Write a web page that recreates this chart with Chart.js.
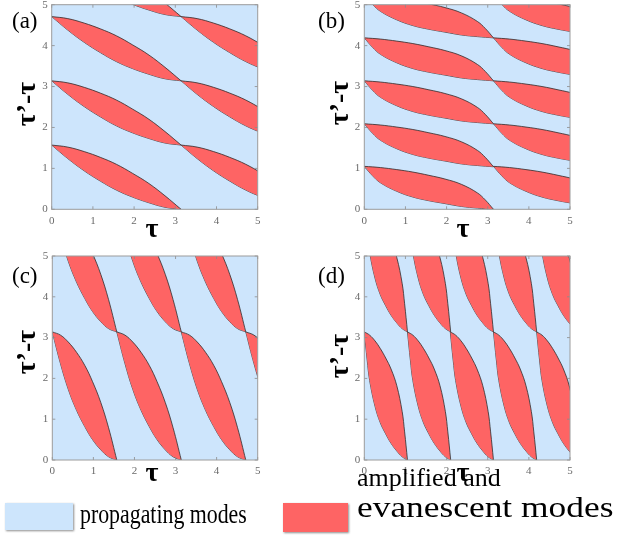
<!DOCTYPE html>
<html>
<head>
<meta charset="utf-8">
<script src="https://cdn.jsdelivr.net/npm/chart.js@4.4.0/dist/chart.umd.min.js"></script>
<style>
  body { margin: 0; width: 620px; height: 554px; background: #fff; position: relative; overflow: hidden; font-family: "Liberation Serif", serif; }
  canvas { position: absolute; left: 0; top: 0; }
  .box { position: absolute; box-shadow: 1px 1px 2px rgba(0,0,0,0.45); }
  .txt { position: absolute; line-height: 1; color: #000; white-space: nowrap; transform-origin: 0 0; }
</style>
</head>
<body>
<canvas id="pa" width="620" height="554"></canvas>
<canvas id="pb" width="620" height="554"></canvas>
<canvas id="pc" width="620" height="554"></canvas>
<canvas id="pd" width="620" height="554"></canvas>

<div class="box" style="left:5px;top:503px;width:68px;height:27px;background:#cde5fc"></div>
<div class="txt" style="left:80px;top:500px;font-size:28px;transform:scaleX(0.78)">propagating modes</div>
<div class="box" style="left:283px;top:503px;width:65px;height:29px;background:#fe6464"></div>
<div class="txt" style="left:357px;top:465px;font-size:26px">amplified and</div>
<div class="txt" style="left:357px;top:493px;font-size:29px;transform:scaleX(1.22)">evanescent modes</div>

<script>
const tickVals = [0, 1, 2, 3, 4, 5];

// (a) one red lens: upper and lower edge, tip to tip
const aUpTau  = [0, 0.39, 0.79, 1.18, 1.57, 1.96, 2.36, 2.75, 3.14];
const aUpGap  = [1.57, 1.52, 1.41, 1.27, 1.10, 0.88, 0.63, 0.33, 0];
const aLowTau = [0, 0.39, 0.79, 1.18, 1.57, 1.96, 2.36, 2.75, 3.14];
const aLowGap = [1.57, 1.24, 0.94, 0.69, 0.47, 0.30, 0.16, 0.05, 0];
// upper-left tips of the lenses in (a)
const aTipTau = [0, 0, 0, 0, 3.14, 3.14, 3.14, 3.14];
const aTipGap = [1.57, 3.14, 4.71, 6.28, 1.57, 3.14, 4.71, 6.28];

// (b)
const bUpTau  = [0, 0.39, 0.79, 1.18, 1.57, 1.96, 2.36, 2.75, 2.94, 3.14];
const bUpGap  = [1.05, 1.02, 0.97, 0.91, 0.83, 0.74, 0.61, 0.40, 0.23, 0];
const bLowTau = [0, 0.20, 0.39, 0.79, 1.18, 1.57, 1.96, 2.36, 2.75, 3.14];
const bLowGap = [1.05, 0.82, 0.65, 0.44, 0.30, 0.21, 0.14, 0.07, 0.03, 0];
const bTipTau = [0, 0, 0, 0, 0, 3.14, 3.14, 3.14, 3.14, 3.14];
const bTipGap = [1.05, 2.09, 3.14, 4.19, 5.24, 1.05, 2.09, 3.14, 4.19, 5.24];

// (c)
const cUpTau  = [0, 0.20, 0.39, 0.59, 0.79, 0.98, 1.18, 1.37, 1.57];
const cUpGap  = [3.14, 3.06, 2.89, 2.64, 2.32, 1.92, 1.41, 0.79, 0];
const cLowTau = [0, 0.20, 0.39, 0.59, 0.79, 0.98, 1.18, 1.37, 1.57];
const cLowGap = [3.14, 2.36, 1.73, 1.22, 0.82, 0.50, 0.25, 0.08, 0];
const cTipTau = [0, 1.57, 3.14, 4.71, 0, 1.57, 3.14, 4.71];
const cTipGap = [3.14, 3.14, 3.14, 3.14, 6.28, 6.28, 6.28, 6.28];

// (d)
const dUpTau  = [0, 0.13, 0.26, 0.39, 0.52, 0.65, 0.79, 0.92, 0.98, 1.05];
const dUpGap  = [3.14, 3.06, 2.92, 2.73, 2.50, 2.23, 1.82, 1.19, 0.69, 0];
const dLowTau = [0, 0.07, 0.13, 0.26, 0.39, 0.52, 0.65, 0.79, 0.92, 1.05];
const dLowGap = [3.14, 2.45, 1.95, 1.32, 0.91, 0.64, 0.41, 0.22, 0.08, 0];
const dTipTau = [0, 1.05, 2.09, 3.14, 4.19, 0, 1.05, 2.09, 3.14, 4.19];
const dTipGap = [3.14, 3.14, 3.14, 3.14, 3.14, 6.28, 6.28, 6.28, 6.28, 6.28];

const BLUE = '#cde5fc', RED = '#fe6464', EDGE = '#2f2f2f';

function lensSets(upT, upG, loT, loG, tipT, tipG) {
  const sets = [];
  for (let i = 0; i < tipT.length; i++) {
    const dx = tipT[i] - upT[0], dy = tipG[i] - upG[0];
    const line = { borderColor: EDGE, borderWidth: 0.8, pointRadius: 0, tension: 0.4 };
    sets.push(Object.assign({ data: upT.map((t, k) => ({ x: t + dx, y: upG[k] + dy })), fill: '+1', backgroundColor: RED }, line));
    sets.push(Object.assign({ data: loT.map((t, k) => ({ x: t + dx, y: loG[k] + dy })), fill: false }, line));
  }
  return sets;
}

const panelDeco = {
  id: 'panelDeco',
  beforeDatasetsDraw(chart) {
    const { ctx, chartArea: a } = chart;
    ctx.save();
    ctx.fillStyle = BLUE;
    ctx.fillRect(a.left, a.top, a.width, a.height);
    ctx.restore();
  },
  afterDatasetsDraw(chart) {
    const { ctx, chartArea: a, scales } = chart;
    ctx.save();
    ctx.strokeStyle = '#8a8a8a';
    ctx.lineWidth = 0.8;
    ctx.beginPath();
    tickVals.forEach(v => {
      const px = scales.x.getPixelForValue(v), py = scales.y.getPixelForValue(v);
      ctx.moveTo(px, a.bottom); ctx.lineTo(px, a.bottom - 3);
      ctx.moveTo(px, a.top); ctx.lineTo(px, a.top + 3);
      ctx.moveTo(a.left, py); ctx.lineTo(a.left + 3, py);
      ctx.moveTo(a.right, py); ctx.lineTo(a.right - 3, py);
    });
    ctx.stroke();
    ctx.strokeStyle = '#9c9c9c';
    ctx.lineWidth = 1;
    ctx.strokeRect(a.left, a.top, a.width, a.height);
    ctx.restore();
  },
  afterDraw(chart, args, o) {
    const ctx = chart.ctx;
    ctx.save();
    ctx.fillStyle = '#000';
    ctx.textBaseline = 'alphabetic';
    ctx.font = '23px "Liberation Serif"';
    ctx.textAlign = 'left';
    ctx.fillText(o.letter, o.letterX, o.letterY);
    ctx.font = 'bold 28px "Liberation Serif"';
    ctx.textAlign = 'center';
    ctx.fillText('τ', o.xTitleX, o.xTitleY);
    ctx.translate(o.yTitleX, o.yTitleY);
    ctx.rotate(-Math.PI / 2);
    ctx.fillText('τ’-τ', 0, 0);
    ctx.restore();
  }
};

function axis(fit, pad) {
  return {
    type: 'linear', min: 0, max: 5,
    grid: { display: false, drawTicks: false },
    border: { display: false },
    ticks: { padding: pad, color: '#6a6a6a', font: { family: 'Liberation Serif', size: 11 }, maxRotation: 0 },
    afterBuildTicks: s => { s.ticks = tickVals.map(v => ({ value: v })); },
    afterFit: fit
  };
}

function makePanel(id, area, sets, deco) {
  new Chart(document.getElementById(id), {
    type: 'line',
    data: { datasets: sets },
    options: {
      responsive: false,
      animation: false,
      devicePixelRatio: 1,
      elements: { line: { capBezierPoints: false } },
      layout: {
        autoPadding: false,
        padding: { left: area.left - 40, top: area.top, right: 620 - area.right, bottom: 554 - area.bottom - 30 }
      },
      scales: {
        x: axis(s => { s.height = 30; s.paddingLeft = 0; s.paddingRight = 0; }, 5),
        y: axis(s => { s.width = 40; s.paddingTop = 0; s.paddingBottom = 0; }, 4)
      },
      plugins: { legend: { display: false }, tooltip: { enabled: false }, panelDeco: deco }
    },
    plugins: [panelDeco]
  });
}

makePanel('pa', { left: 51.7, top: 4.7, right: 257.7, bottom: 209.3 },
  lensSets(aUpTau, aUpGap, aLowTau, aLowGap, aTipTau, aTipGap),
  { letter: '(a)', letterX: 12, letterY: 28, xTitleX: 152, xTitleY: 237, yTitleX: 35, yTitleY: 104 });
makePanel('pb', { left: 364.3, top: 4.7, right: 570, bottom: 209.3 },
  lensSets(bUpTau, bUpGap, bLowTau, bLowGap, bTipTau, bTipGap),
  { letter: '(b)', letterX: 318, letterY: 28, xTitleX: 463, xTitleY: 237, yTitleX: 348, yTitleY: 103 });
makePanel('pc', { left: 52.3, top: 256, right: 257.7, bottom: 460 },
  lensSets(cUpTau, cUpGap, cLowTau, cLowGap, cTipTau, cTipGap),
  { letter: '(c)', letterX: 12, letterY: 283, xTitleX: 152, xTitleY: 481, yTitleX: 35, yTitleY: 352 });
makePanel('pd', { left: 364.3, top: 256, right: 570, bottom: 460 },
  lensSets(dUpTau, dUpGap, dLowTau, dLowGap, dTipTau, dTipGap),
  { letter: '(d)', letterX: 318, letterY: 283, xTitleX: 463, xTitleY: 481, yTitleX: 348, yTitleY: 356 });
</script>
</body>
</html>
